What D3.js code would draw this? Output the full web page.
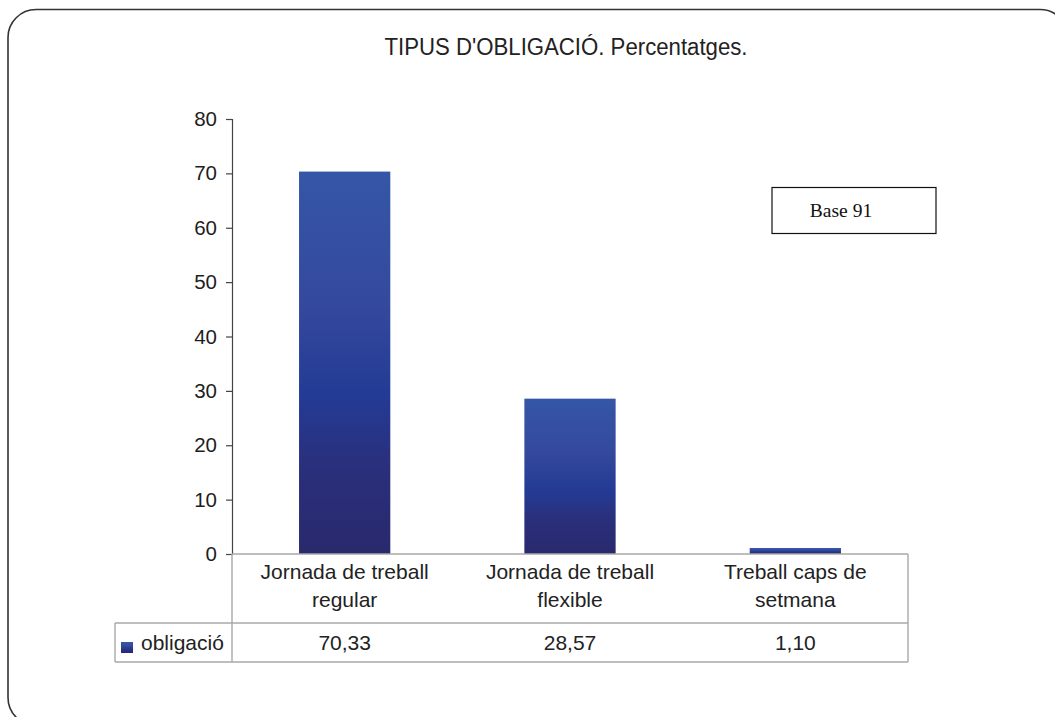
<!DOCTYPE html>
<html>
<head>
<meta charset="utf-8">
<script src="https://cdn.jsdelivr.net/npm/d3@7"></script>
<style>
  html, body { margin: 0; padding: 0; background: #fff; }
  svg { display: block; }
</style>
</head>
<body>
<svg id="chart" width="1055" height="717"></svg>
<script>
const title = "TIPUS D'OBLIGACIÓ. Percentatges.";
const categories = ["Jornada de treball regular", "Jornada de treball flexible", "Treball caps de setmana"];
const seriesName = "obligació";
const values = [70.33, 28.57, 1.10];
const yTicks = [0, 10, 20, 30, 40, 50, 60, 70, 80];
const note = "Base 91";

const SANS = "'Liberation Sans', Arial, sans-serif";
const SERIF = "'Liberation Serif', 'Times New Roman', serif";

const svg = d3.select("#chart");

// frame
svg.append("rect")
  .attr("x", 8).attr("y", 9.5).attr("width", 1060).attr("height", 716)
  .attr("rx", 28).attr("ry", 28)
  .attr("fill", "none").attr("stroke", "#333").attr("stroke-width", 1.6);

// gradient
const defs = svg.append("defs");
const grad = defs.append("linearGradient").attr("id", "barGrad")
  .attr("x1", 0).attr("y1", 0).attr("x2", 0).attr("y2", 1);
[["0%", "#3556a6"], ["35%", "#34499d"], ["58%", "#243b95"], ["78%", "#2a2f7b"], ["100%", "#29296d"]]
  .forEach(([o, c]) => grad.append("stop").attr("offset", o).attr("stop-color", c));

const plotLeft = 232, plotRight = 908, plotTop = 119, plotBottom = 554;
const x = d3.scaleBand().domain(categories).range([plotLeft, plotRight]).paddingInner(0).paddingOuter(0);
const y = d3.scaleLinear().domain([0, 80]).range([plotBottom, plotTop]);
const barW = x.bandwidth() * 0.405;

// title
svg.append("text")
  .attr("x", 566).attr("y", 55)
  .attr("text-anchor", "middle")
  .style("font-family", SANS).attr("fill", "#222")
  .attr("font-size", 23)
  .attr("textLength", 363).attr("lengthAdjust", "spacingAndGlyphs")
  .text(title);

// bars
svg.append("g").selectAll("rect").data(values).join("rect")
  .attr("x", (d, i) => x(categories[i]) + x.bandwidth() / 2 - barW / 2)
  .attr("y", d => y(d))
  .attr("width", barW)
  .attr("height", d => y(0) - y(d))
  .attr("fill", "url(#barGrad)");

// y axis
const yAxis = d3.axisLeft(y).tickValues(yTicks).tickSize(6).tickPadding(9).tickFormat(d3.format("d"));
const gy = svg.append("g").attr("transform", `translate(${plotLeft},0)`).call(yAxis);
gy.select(".domain").attr("stroke", "#444").attr("stroke-width", 1.2);
gy.selectAll(".tick line").attr("stroke", "#444").attr("stroke-width", 1.2);
gy.selectAll(".tick text").attr("font-size", 20.5).attr("fill", "#1e1e1e").style("font-family", SANS);

// table
const tableLeft = 115, row1 = 623, row2 = 662;
const lines = svg.append("g").attr("stroke", "#a8a8a8").attr("stroke-width", 1.4).attr("fill", "none");
lines.append("line").attr("x1", plotLeft).attr("x2", plotRight).attr("y1", y(0)).attr("y2", y(0));
lines.append("line").attr("x1", tableLeft).attr("x2", plotRight).attr("y1", row1).attr("y2", row1);
lines.append("line").attr("x1", tableLeft).attr("x2", plotRight).attr("y1", row2).attr("y2", row2);
lines.append("line").attr("x1", plotLeft).attr("x2", plotLeft).attr("y1", y(0)).attr("y2", row2);
lines.append("line").attr("x1", tableLeft).attr("x2", tableLeft).attr("y1", row1).attr("y2", row2);
lines.append("line").attr("x1", plotRight).attr("x2", plotRight).attr("y1", y(0)).attr("y2", row2);

// category labels (wrapped)
const catG = svg.append("g");
categories.forEach(c => {
  const t = catG.append("text").attr("text-anchor", "middle").attr("font-size", 21)
    .style("font-family", SANS).attr("fill", "#222");
  const words = c.split(" ");
  const linesArr = [];
  let cur = [];
  const probe = svg.append("text").attr("font-size", 21).style("font-family", SANS);
  words.forEach(w => {
    const test = cur.concat([w]).join(" ");
    probe.text(test);
    if (probe.node().getComputedTextLength() > 200 && cur.length) {
      linesArr.push(cur.join(" "));
      cur = [w];
    } else cur.push(w);
  });
  linesArr.push(cur.join(" "));
  probe.remove();
  linesArr.forEach((l, k) => {
    t.append("tspan").attr("x", x(c) + x.bandwidth() / 2).attr("y", 579 + k * 28).text(l);
  });
});

// values row
svg.append("g").selectAll("text").data(values).join("text")
  .attr("x", (d, i) => x(categories[i]) + x.bandwidth() / 2)
  .attr("y", 650)
  .attr("text-anchor", "middle")
  .attr("font-size", 21).style("font-family", SANS).attr("fill", "#222")
  .text(d => d3.format(".2f")(d).replace(".", ","));

// legend key
svg.append("rect").attr("x", 121).attr("y", 642).attr("width", 12).attr("height", 11).attr("fill", "url(#barGrad)");
svg.append("text").attr("x", 141).attr("y", 650).attr("font-size", 21)
  .style("font-family", SANS).attr("fill", "#222").text(seriesName);

// note box
svg.append("rect").attr("x", 772).attr("y", 187.5).attr("width", 164).attr("height", 46)
  .attr("fill", "#fff").attr("stroke", "#111").attr("stroke-width", 1.2);
svg.append("text").attr("x", 841).attr("y", 217).attr("text-anchor", "middle")
  .style("font-family", SERIF).attr("fill", "#111")
  .attr("font-size", 19.5).text(note);
</script>
</body>
</html>
